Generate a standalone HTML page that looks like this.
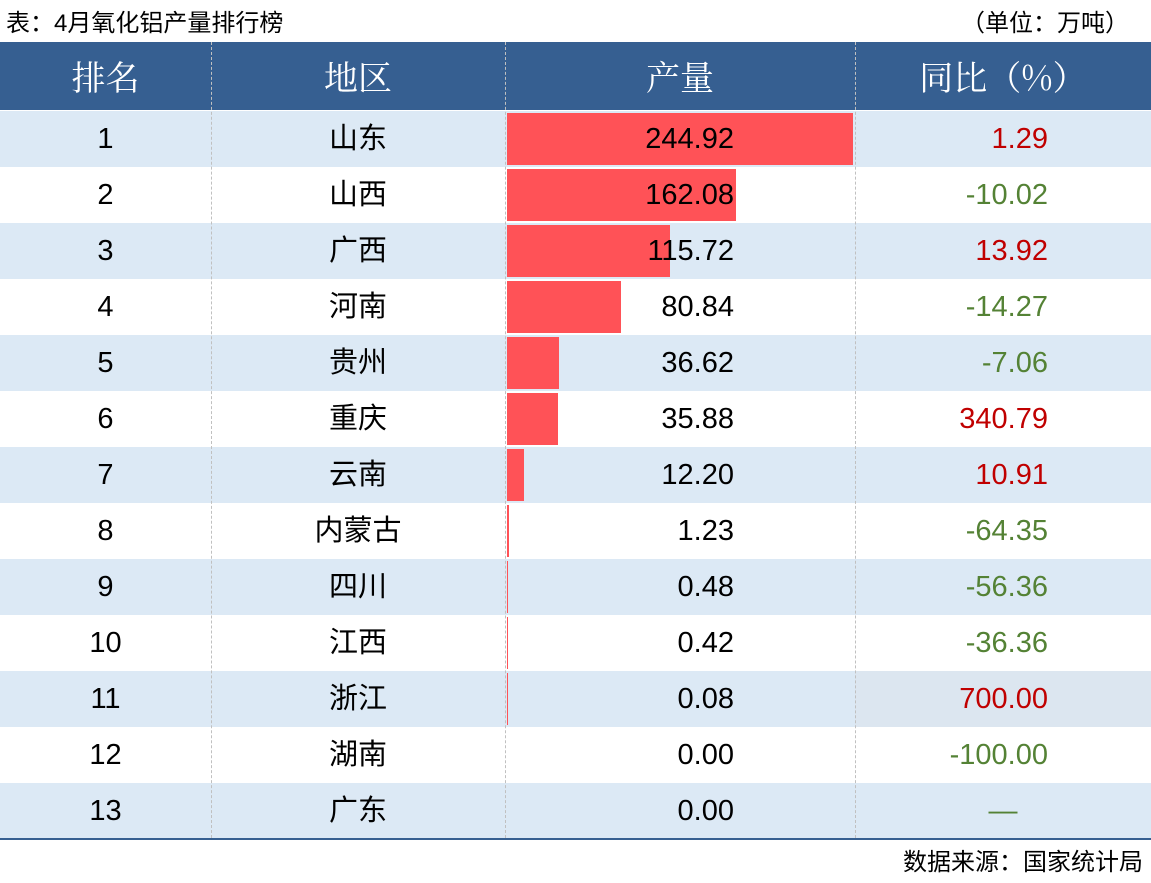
<!DOCTYPE html>
<html><head><meta charset="utf-8"><style>
body{margin:0;width:1151px;height:883px;background:#fff;position:relative;overflow:hidden;font-family:"Liberation Sans","Noto Sans CJK SC",sans-serif;}
.abs{position:absolute;}
.title{left:6px;top:3px;font-size:24px;color:#000;}
.unit{right:22px;top:3px;font-size:24px;color:#000;}
.hdr{left:0;top:42px;width:1151px;height:68px;background:#365f91;}
.hcell{position:absolute;top:0;height:68px;line-height:68px;text-align:center;color:#fff;font-size:34px;font-family:"Noto Serif CJK SC",serif;}
.row{position:absolute;left:0;width:1151px;height:56px;}
.cell{position:absolute;top:0;height:56px;line-height:56px;font-size:29px;}
.vl{position:absolute;top:42px;height:796px;border-left:1px dashed #c0c0c0;}
.bar{position:absolute;background:#ff5257;}
.src{right:8px;top:842px;font-size:24px;color:#000;}
</style></head><body>
<div class="abs title">表：4月氧化铝产量排行榜</div>
<div class="abs unit">（单位：万吨）</div>
<div class="abs hdr">
<div class="hcell" style="left:0;width:211px">排名</div>
<div class="hcell" style="left:211px;width:294px">地区</div>
<div class="hcell" style="left:505px;width:350px">产量</div>
<div class="hcell" style="left:855px;width:296px">同比（%）</div>
</div>
<div id="body"></div>
<div class="abs" style="left:0;top:838px;width:1151px;height:2px;background:#365f91"></div>
<div class="abs src">数据来源：国家统计局</div>
<script>
const regions=["山东","山西","广西","河南","贵州","重庆","云南","内蒙古","四川","江西","浙江","湖南","广东"];
const outputs=[244.92,162.08,115.72,80.84,36.62,35.88,12.20,1.23,0.48,0.42,0.08,0.00,0.00];
const yoy=[1.29,-10.02,13.92,-14.27,-7.06,340.79,10.91,-64.35,-56.36,-36.36,700.00,-100.00,null];
const body=document.getElementById('body');
const top0=111,rh=56,barX=507,barMaxW=346,maxV=Math.max(...outputs);
function xs(v){return v/maxV*barMaxW;}
regions.forEach((r,i)=>{
  const row=document.createElement('div');
  row.className='row';
  
  
  row.style.top=(top0+i*rh)+'px';
  row.style.background=(i%2===0)?'#dce9f5':'#fff';
  if(i===10){
    const bg=document.createElement('div');
    
    
    bg.style.cssText='position:absolute;left:855px;top:0;width:296px;height:56px;background:#dce6f0';
    row.appendChild(bg);
  }
  const b=document.createElement('div');
  b.className='bar';
  
  
  b.style.left=barX+'px';b.style.top='2px';b.style.height='52px';
  b.style.width=xs(outputs[i])+'px';
  row.appendChild(b);
  const c1=document.createElement('div');c1.className='cell';
  
  
  c1.style.left='0';c1.style.width='211px';c1.style.textAlign='center';c1.textContent=i+1;
  const c2=document.createElement('div');c2.className='cell';
  
  
  c2.style.left='211px';c2.style.width='294px';c2.style.textAlign='center';c2.textContent=r;
  const c3=document.createElement('div');c3.className='cell';
  
  
  c3.style.left='505px';c3.style.width='229px';c3.style.textAlign='right';c3.textContent=outputs[i].toFixed(2);
  const c4=document.createElement('div');c4.className='cell';
  
  
  const y=yoy[i];
  if(y===null){c4.style.left='855px';c4.style.width='296px';c4.style.textAlign='center';c4.textContent='—';c4.style.color='#548235';}
  else{c4.style.left='855px';c4.style.width='193px';c4.style.textAlign='right';c4.textContent=y.toFixed(2);c4.style.color=y>=0?'#c00000':'#548235';}
  row.append(c1,c2,c3,c4);
  body.appendChild(row);
});
[211,505,855].forEach(x=>{
  const v=document.createElement('div');v.className='vl';
  
  
  v.style.left=x+'px';body.appendChild(v);
});
</script>
</body></html>
